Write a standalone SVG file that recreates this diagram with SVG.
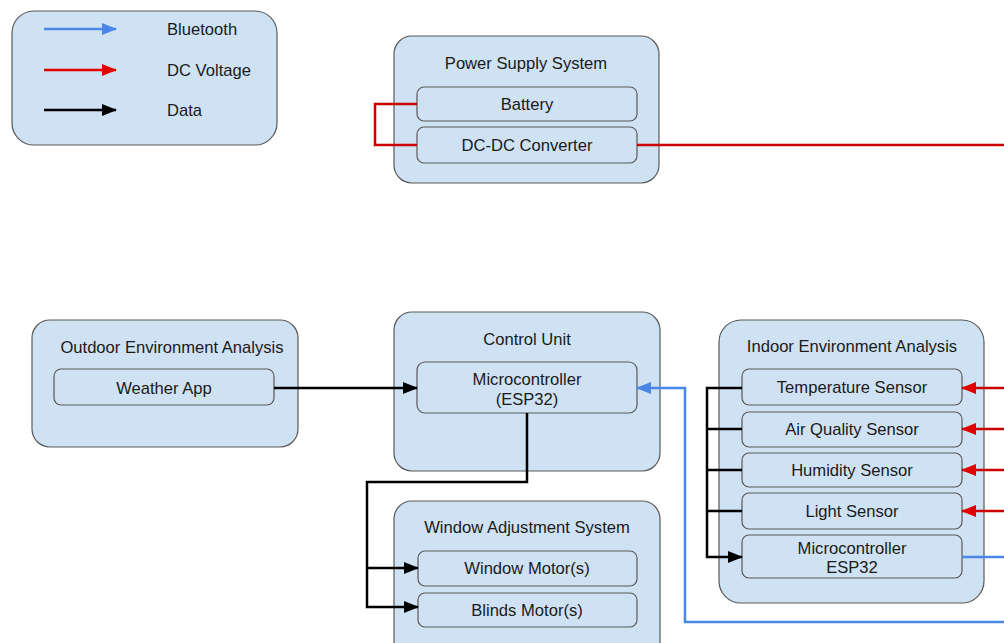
<svg xmlns="http://www.w3.org/2000/svg" width="1004" height="643" viewBox="0 0 1004 643">
<style>
.box{fill:#cfe2f3;stroke:#595959;stroke-width:1.2}
.sub{fill:#cfe2f3;stroke:#595959;stroke-width:1.2}
text{font-family:"Liberation Sans",Arial,sans-serif;font-size:16.6px;fill:#1a1a1a;text-anchor:middle}
.lt{text-anchor:start}
.c{fill:none;stroke-width:2.5}
.k{stroke:#000}
.r{stroke:#cc0000}
.b{stroke:#4a86e8}
</style>
<defs>
<marker id="ak" markerUnits="userSpaceOnUse" markerWidth="16" markerHeight="12" refX="14" refY="6" orient="auto"><path d="M0,0 L15,6 L0,12 Z" fill="#000"/></marker>
<marker id="ar" markerUnits="userSpaceOnUse" markerWidth="16" markerHeight="12" refX="14" refY="6" orient="auto"><path d="M0,0 L15,6 L0,12 Z" fill="#e00000"/></marker>
<marker id="ab" markerUnits="userSpaceOnUse" markerWidth="16" markerHeight="12" refX="14" refY="6" orient="auto"><path d="M0,0 L15,6 L0,12 Z" fill="#4a86e8"/></marker>
</defs>

<g id="legend">
<rect class="box" x="12" y="11" width="265" height="134" rx="22"/>
<line x1="44" y1="29" x2="116" y2="29" class="c b" marker-end="url(#ab)"/>
<line x1="44" y1="70" x2="116" y2="70" class="c" stroke="#e00000" marker-end="url(#ar)"/>
<line x1="44" y1="110" x2="116" y2="110" class="c k" marker-end="url(#ak)"/>
<text class="lt" x="167" y="35">Bluetooth</text>
<text class="lt" x="167" y="76">DC Voltage</text>
<text class="lt" x="167" y="116">Data</text>
</g>

<g id="power-supply">
<rect class="box" x="394" y="36" width="265" height="147" rx="18"/>
<text x="526" y="69">Power Supply System</text>
</g>
<g id="battery">
<rect class="sub" x="417" y="87" width="220" height="34" rx="7"/>
<text x="527" y="110">Battery</text>
</g>
<g id="dcdc">
<rect class="sub" x="417" y="127" width="220" height="36" rx="7"/>
<text x="527" y="151">DC-DC Converter</text>
</g>

<g id="outdoor">
<rect class="box" x="32" y="320" width="266" height="127" rx="18"/>
<text x="172" y="353">Outdoor Environment Analysis</text>
</g>
<g id="weather-app">
<rect class="sub" x="54" y="369" width="220" height="36" rx="7"/>
<text x="164" y="394">Weather App</text>
</g>

<g id="control-unit">
<rect class="box" x="394" y="312" width="266" height="159" rx="18"/>
<text x="527" y="345">Control Unit</text>
</g>
<g id="mcu-main">
<rect class="sub" x="417" y="362" width="220" height="51" rx="8"/>
<text x="527" y="385">Microcontroller</text>
<text x="527" y="405">(ESP32)</text>
</g>

<g id="window-adjustment">
<rect class="box" x="394" y="501" width="266" height="160" rx="18"/>
<text x="527" y="533">Window Adjustment System</text>
</g>
<g id="window-motor">
<rect class="sub" x="418" y="551" width="219" height="35" rx="7"/>
<text x="527" y="574">Window Motor(s)</text>
</g>
<g id="blinds-motor">
<rect class="sub" x="418" y="593" width="219" height="34" rx="7"/>
<text x="527" y="616">Blinds Motor(s)</text>
</g>

<g id="indoor">
<rect class="box" x="719" y="320" width="265" height="283" rx="22"/>
<text x="852" y="352">Indoor Environment Analysis</text>
</g>
<g id="temp-sensor">
<rect class="sub" x="742" y="369" width="220" height="36" rx="7"/>
<text x="852" y="393">Temperature Sensor</text>
</g>
<g id="air-sensor">
<rect class="sub" x="742" y="412" width="220" height="35" rx="7"/>
<text x="852" y="435">Air Quality Sensor</text>
</g>
<g id="humidity-sensor">
<rect class="sub" x="742" y="453" width="220" height="34" rx="7"/>
<text x="852" y="476">Humidity Sensor</text>
</g>
<g id="light-sensor">
<rect class="sub" x="742" y="493" width="220" height="36" rx="7"/>
<text x="852" y="517">Light Sensor</text>
</g>
<g id="mcu-indoor">
<rect class="sub" x="742" y="535" width="220" height="43" rx="7"/>
<text x="852" y="554">Microcontroller</text>
<text x="852" y="573">ESP32</text>
</g>

<g id="connectors">
<polyline class="c r" points="417,104 375,104 375,145 417,145"/>
<line class="c r" x1="637" y1="145" x2="1004" y2="145"/>
<line class="c k" x1="274" y1="388" x2="417" y2="388" marker-end="url(#ak)"/>
<polyline class="c k" points="527,413 527,482 367,482 367,607 418,607" marker-end="url(#ak)"/>
<line class="c k" x1="367" y1="568" x2="418" y2="568" marker-end="url(#ak)"/>
<polyline class="c k" points="742,388 707,388 707,557 742,557" marker-end="url(#ak)"/>
<line class="c k" x1="742" y1="429" x2="707" y2="429"/>
<line class="c k" x1="742" y1="470" x2="707" y2="470"/>
<line class="c k" x1="742" y1="511" x2="707" y2="511"/>
<line class="c r" x1="1004" y1="388" x2="962" y2="388" marker-end="url(#ar)"/>
<line class="c r" x1="1004" y1="429" x2="962" y2="429" marker-end="url(#ar)"/>
<line class="c r" x1="1004" y1="470" x2="962" y2="470" marker-end="url(#ar)"/>
<line class="c r" x1="1004" y1="511" x2="962" y2="511" marker-end="url(#ar)"/>
<line class="c b" x1="962" y1="557" x2="1004" y2="557"/>
<polyline class="c b" points="1004,622 685,622 685,388 637,388" marker-end="url(#ab)"/>
</g>
</svg>
